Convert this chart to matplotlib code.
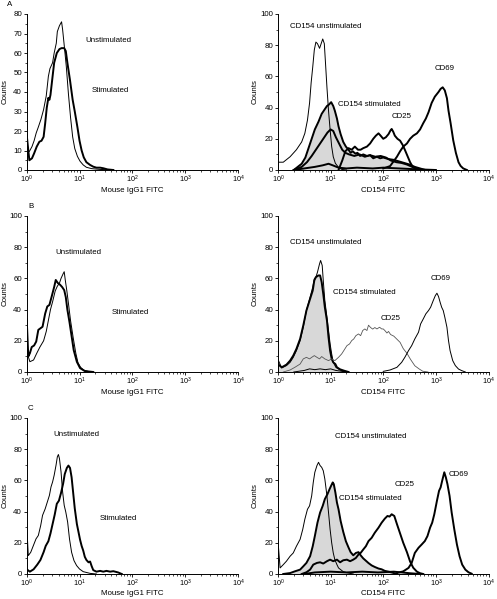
import numpy as np
import matplotlib
matplotlib.use("Agg")
import matplotlib.pyplot as plt
from matplotlib.ticker import FixedLocator, FixedFormatter, NullFormatter

plt.rcParams['font.family'] = ['Liberation Sans', 'DejaVu Sans']
plt.rcParams['mathtext.fontset'] = 'custom'
plt.rcParams['mathtext.rm'] = 'Liberation Sans'

# ---------------- DATA (x in log10 decades of fluorescence, y = counts) ----------------
# Panel A, left (Mouse IgG1 FITC)
aL_unstim_logx = [0, 0, 0.02, 0.05, 0.10, 0.14, 0.18, 0.22, 0.27, 0.32, 0.37, 0.41, 0.44, 0.49, 0.52, 0.56, 0.58, 0.62, 0.66, 0.68,
                  0.71, 0.75, 0.79, 0.83, 0.87, 0.91, 0.96, 1.01, 1.07, 1.13, 1.23, 1.39, 1.64]
aL_unstim = [0, 22, 10, 9.5, 12, 15, 19, 22, 26, 31, 38, 48, 52, 55, 60, 65, 71, 74, 76, 72,
             64, 53, 39, 27, 17, 11, 7, 4.5, 2.6, 1.4, 0.7, 0.3, 0]
aL_stim_logx = [0, 0, 0.05, 0.10, 0.14, 0.19, 0.24, 0.28, 0.32, 0.35, 0.38, 0.41, 0.43, 0.45, 0.49, 0.52, 0.57, 0.62, 0.66, 0.71,
                0.74, 0.77, 0.82, 0.87, 0.91, 0.96, 1.00, 1.04, 1.08, 1.13, 1.20, 1.26, 1.32, 1.39, 1.45, 1.53, 1.64]
aL_stim = [0, 18, 5, 6, 8.5, 12, 14.5, 15, 17, 24, 32, 37, 36, 38.5, 48, 55, 60, 62, 62.5, 62.5,
           61, 55, 46, 36, 30, 22, 15, 10, 6.5, 4, 2.6, 1.7, 1.2, 1.2, 0.9, 0.3, 0]

# Panel A, right (CD154 FITC)
aR_unstim_logx = [0, 0, 0.10, 0.23, 0.35, 0.45, 0.51, 0.56, 0.60, 0.63, 0.66, 0.69, 0.72, 0.75, 0.79, 0.82, 0.85, 0.88, 0.90, 0.93,
                  0.96, 0.99, 1.02, 1.05, 1.09, 1.15, 1.21, 1.30]
aR_unstim = [0, 5, 5, 8.5, 13, 18, 23.5, 32, 43, 56, 66, 77, 82, 81, 78, 81, 84, 81, 70, 53,
             38, 26, 15, 8.5, 4.3, 1.7, 0.4, 0]
aR_stim_logx = [0.30, 0.45, 0.52, 0.58, 0.64, 0.70, 0.77, 0.83, 0.89, 0.93, 0.97, 1.01, 1.05, 1.08, 1.12, 1.15, 1.19, 1.24, 1.29, 1.34,
                1.38, 1.42, 1.47, 1.51, 1.56, 1.62, 1.69, 1.75, 1.81, 1.88, 1.94, 2.00, 2.10, 2.20, 2.30, 2.40, 2.50, 2.60, 2.70, 2.80]
aR_stim = [0, 4, 8, 14, 20, 26, 31, 36, 39, 41, 42, 43.5, 41, 38, 33, 28, 23, 18, 15, 13,
           11, 12, 10.5, 11, 9, 10, 9, 9.5, 7.5, 8.5, 7.5, 8, 7, 6.5, 5.5, 4.5, 3.5, 2, 1, 0]
aR_second_logx = [0.30, 0.45, 0.55, 0.64, 0.72, 0.80, 0.88, 0.94, 1.00, 1.05, 1.10, 1.16, 1.22, 1.28, 1.35, 1.45, 1.55, 1.65, 1.75, 1.85,
                  1.95, 2.05, 2.15, 2.25, 2.35, 2.45, 2.55, 2.65, 2.75]
aR_second = [0, 2, 5, 9, 13, 17, 21, 24, 26, 25, 21, 17, 13, 11, 10, 9, 10, 8.5, 9.5, 8.5,
             9, 8, 6, 5, 4.5, 3.5, 2, 1, 0]
aR_low_logx = [0.30, 0.50, 0.70, 0.85, 0.96, 1.04, 1.15, 1.30, 1.50, 1.80, 2.00, 2.30, 2.60, 3.00]
aR_low = [0, 1, 2, 3, 4, 3, 1.5, 1, 1.5, 1, 1.5, 1, 0.5, 0]
aR_cd25_logx = [1.15, 1.22, 1.28, 1.34, 1.40, 1.46, 1.52, 1.57, 1.62, 1.69, 1.75, 1.81, 1.86, 1.91, 1.95, 2.00, 2.05, 2.10, 2.14, 2.16,
                2.19, 2.22, 2.27, 2.32, 2.37, 2.41, 2.46, 2.51, 2.56, 2.60, 2.67]
aR_cd25 = [0, 6, 12, 14, 13, 15, 13, 13, 14, 15, 17, 20, 22, 23.5, 22, 20, 21, 23, 25.5, 26.3,
           24.5, 22, 20, 18.8, 16, 13, 9, 5, 2, 1, 0]
aR_cd69_logx = [2.00, 2.13, 2.26, 2.32, 2.38, 2.45, 2.51, 2.57, 2.64, 2.70, 2.76, 2.81, 2.86, 2.92, 2.98, 3.05, 3.09, 3.13, 3.17, 3.21,
                3.24, 3.28, 3.33, 3.38, 3.43, 3.47, 3.52, 3.59]
aR_cd69 = [1, 2.5, 8.5, 12, 15, 17, 20, 22, 23.5, 26, 30, 33, 37, 43, 47, 50, 52, 53, 51, 46,
           38, 30, 19, 11, 5, 2.6, 1, 0]

# Panel B, left
bL_unstim_logx = [0, 0, 0.01, 0.06, 0.13, 0.19, 0.25, 0.32, 0.37, 0.41, 0.45, 0.49, 0.54, 0.58, 0.62, 0.65, 0.69, 0.71, 0.73, 0.76,
                  0.79, 0.83, 0.88, 0.93, 0.97, 1.02, 1.08, 1.20]
bL_unstim = [0, 14, 12, 6.6, 7.7, 12, 16, 20, 26, 33, 40, 45, 52, 55, 57, 60, 63, 64.3, 59, 52,
             44, 33, 22, 12, 6, 3, 1.2, 0]
bL_stim_logx = [0, 0, 0.03, 0.06, 0.095, 0.14, 0.18, 0.22, 0.26, 0.30, 0.35, 0.39, 0.43, 0.47, 0.52, 0.55, 0.59, 0.63, 0.67, 0.71,
                0.74, 0.77, 0.81, 0.85, 0.89, 0.95, 1.01, 1.10, 1.26]
bL_stim = [0, 34, 10, 12, 16, 17, 19.5, 27, 28, 29, 37.5, 42, 43, 48, 54.5, 59, 57, 56, 54.5, 52.5,
           48, 40, 32, 23, 14, 6.5, 2.5, 0.6, 0]

# Panel B, right
bR_unstim_logx = [0, 0, 0.07, 0.16, 0.23, 0.29, 0.35, 0.42, 0.48, 0.54, 0.61, 0.66, 0.69, 0.72, 0.75, 0.79, 0.81, 0.84, 0.86, 0.89,
                  0.93, 0.96, 0.99, 1.02, 1.05, 1.10, 1.18, 1.27]
bR_unstim = [0, 8, 2.6, 4.1, 6.2, 9.4, 13.7, 20.1, 28.7, 39.4, 48, 54.4, 59.7, 60.8, 64, 69.4, 71.5, 68.3, 58.7, 45.8,
             35.1, 26.6, 18, 11.6, 6.2, 3, 1.3, 0]
bR_stim_logx = [0, 0, 0.07, 0.16, 0.23, 0.29, 0.35, 0.42, 0.48, 0.54, 0.61, 0.66, 0.69, 0.72, 0.77, 0.80, 0.83, 0.86, 0.89, 0.93,
                0.96, 0.99, 1.02, 1.05, 1.09, 1.12, 1.18, 1.25, 1.34]
bR_stim = [0, 5, 3, 4.7, 7.3, 10.5, 14.8, 21.2, 29.8, 39.4, 46.9, 52.2, 58.7, 60.8, 61.9, 61.9, 57.6, 50.1, 41.5, 33,
           22.3, 13.7, 8.4, 6.2, 5.1, 3, 1.7, 0.9, 0]
bR_low_logx = [0.3, 0.5, 0.6, 0.7, 0.8, 0.9, 1.0, 1.1, 1.3]
bR_low = [0, 1, 2, 1.5, 2, 1.5, 2, 1, 0]
bR_cd25_logx = [0.10, 0.23, 0.32, 0.42, 0.48, 0.54, 0.60, 0.64, 0.69, 0.74, 0.79, 0.83, 0.89, 0.96, 1.02, 1.08, 1.15, 1.21, 1.25, 1.31,
                1.36, 1.40, 1.44, 1.48, 1.53, 1.57, 1.61, 1.65, 1.69, 1.72, 1.76, 1.80, 1.84, 1.88, 1.93, 1.97, 2.00, 2.03, 2.07, 2.10,
                2.14, 2.20, 2.26, 2.32, 2.38, 2.45, 2.52, 2.60, 2.68, 2.75, 2.85]
bR_cd25 = [0, 1.3, 3, 5.1, 8.4, 9.4, 8.4, 9.4, 10.5, 9.4, 8.4, 9.9, 8.4, 7.3, 8.4, 7.3, 9.4, 11.6, 13.7, 16.9,
           18, 20.1, 21.2, 23.3, 24.4, 23.3, 26.6, 27.6, 26.6, 30, 28.5, 27.5, 28.5, 27.6, 28.7, 27.6, 27.6, 26.6, 25, 26,
           24, 23, 21, 19, 15, 12, 8, 4, 2, 0.5, 0]
bR_cd69_logx = [2.00, 2.13, 2.26, 2.35, 2.41, 2.48, 2.54, 2.60, 2.67, 2.71, 2.76, 2.81, 2.86, 2.90, 2.95, 2.99, 3.02, 3.05, 3.08, 3.11,
                3.14, 3.17, 3.21, 3.24, 3.27, 3.32, 3.37, 3.43, 3.49, 3.56]
bR_cd69 = [0.4, 1.3, 3, 6.2, 9.4, 13.7, 16.9, 21.2, 25.5, 30.8, 34, 37.3, 39.4, 41.5, 45.8, 49, 50.5, 48.4, 44.8, 41.5,
           39.4, 35.1, 28.7, 20.1, 13.7, 7.3, 4.1, 1.9, 0.9, 0]

# Panel C, left
cL_unstim_logx = [0, 0, 0.03, 0.076, 0.126, 0.176, 0.22, 0.265, 0.30, 0.35, 0.39, 0.43, 0.46, 0.49, 0.52, 0.555, 0.58, 0.60, 0.62, 0.65,
                  0.68, 0.71, 0.74, 0.775, 0.81, 0.85, 0.895, 0.945, 1.0, 1.07, 1.2, 1.32]
cL_unstim = [0, 32, 11.8, 13.9, 18.2, 22.5, 24.7, 31.1, 37.6, 41.8, 46.1, 50.4, 55.8, 59, 63.3, 69.7, 75.1, 76.6, 74, 65.5,
             52.6, 44, 39.7, 33.3, 22.5, 13.9, 8.6, 5.4, 3.2, 1.5, 0.4, 0]
cL_stim_logx = [0, 0.06, 0.13, 0.20, 0.26, 0.32, 0.36, 0.41, 0.45, 0.49, 0.53, 0.57, 0.61, 0.65, 0.69, 0.72, 0.76, 0.79, 0.82, 0.85,
                0.88, 0.91, 0.95, 0.98, 1.01, 1.04, 1.07, 1.10, 1.13, 1.17, 1.20, 1.23, 1.26, 1.32, 1.39, 1.45, 1.51, 1.58, 1.64, 1.73,
                1.80]
cL_stim = [3, 1.5, 3, 6, 9, 14, 18, 21, 26, 32, 38, 45, 47, 52, 58, 64, 68, 69.5, 68, 62,
           52, 42, 32, 27, 22, 18, 15, 11, 9, 7.5, 8, 5, 2.5, 1.5, 2, 1.5, 2, 1.5, 1.8, 1,
           0]

# Panel C, right
cR_unstim_logx = [0, 0, 0.04, 0.10, 0.16, 0.23, 0.29, 0.35, 0.42, 0.47, 0.51, 0.56, 0.60, 0.64, 0.67, 0.70, 0.74, 0.77, 0.80, 0.83,
                  0.86, 0.89, 0.93, 0.96, 0.99, 1.02, 1.05, 1.08, 1.12, 1.15, 1.19, 1.24, 1.34, 1.43]
cR_unstim = [0, 21, 3.9, 6, 8.2, 11.4, 13.5, 17.8, 22.2, 28.6, 35.1, 41.5, 43.7, 50.1, 58.7, 65.2, 69.5, 71.6, 69.5, 68.4,
             66.2, 60.9, 50.1, 39.4, 28.6, 20, 13.5, 9.2, 6, 3.9, 2.8, 1.5, 0.6, 0]
cR_stim_logx = [0.10, 0.23, 0.32, 0.42, 0.48, 0.54, 0.61, 0.66, 0.70, 0.75, 0.80, 0.85, 0.89, 0.94, 0.98, 1.01, 1.04, 1.06, 1.09, 1.12,
                1.15, 1.19, 1.24, 1.29, 1.34, 1.38, 1.43, 1.48, 1.53, 1.57, 1.62, 1.67, 1.72, 1.78, 1.84, 1.91, 1.97, 2.03, 2.10, 2.16,
                2.26]
cR_stim = [0, 0.6, 1.7, 2.8, 4.9, 7.1, 11.4, 17.8, 24.3, 32.9, 39.4, 43.7, 48, 51.2, 54.4, 56.6, 58.7, 57.6, 52.3, 45.8,
           41.5, 34, 27, 21, 17, 14, 12, 13.5, 14, 12, 10, 8.5, 7, 5.5, 4.5, 3.5, 3, 2, 1.5, 1,
           0]
cR_low_logx = [0.5, 0.7, 1.0, 1.3, 1.6, 1.9, 2.2, 2.5, 2.7]
cR_low = [0, 1, 1.5, 1, 1.5, 1, 1.5, 0.5, 0]
cR_cd25_logx = [0.45, 0.54, 0.61, 0.67, 0.74, 0.80, 0.86, 0.93, 0.99, 1.05, 1.12, 1.18, 1.24, 1.31, 1.37, 1.43, 1.48, 1.53, 1.57, 1.62,
                1.67, 1.72, 1.78, 1.84, 1.91, 1.97, 2.03, 2.08, 2.12, 2.16, 2.21, 2.26, 2.32, 2.38, 2.45, 2.51, 2.57, 2.64, 2.70, 2.76]
cR_cd25 = [0, 1.1, 2.8, 6, 7.1, 7.5, 6.7, 8.2, 9.2, 8.2, 9.2, 7.5, 8.8, 9.2, 8.2, 9.2, 10.3, 12.5, 13.5, 15.7,
           17.8, 21.1, 23.2, 26.5, 29.7, 32.9, 35.5, 37.2, 36.8, 38.3, 37.2, 32, 26, 20, 14, 8, 4, 1.5, 0.5, 0]
cR_cd69_logx = [2.26, 2.38, 2.48, 2.54, 2.60, 2.67, 2.73, 2.79, 2.84, 2.89, 2.93, 2.97, 3.02, 3.06, 3.09, 3.12, 3.16, 3.19, 3.22, 3.26,
                3.30, 3.35, 3.40, 3.45, 3.50, 3.56, 3.62, 3.68]
cR_cd69 = [0.6, 1.7, 3.9, 7.1, 13.5, 16.8, 18.9, 21.1, 24.3, 29.7, 32.9, 38.3, 46.9, 53.3, 55.5, 59.8, 65.2, 61.9, 57.6, 50.1,
           39.4, 28.6, 18.9, 11.4, 6, 2.8, 1.1, 0.2]

x_tick_labels = ['$10^{0}$', '$10^{1}$', '$10^{2}$', '$10^{3}$', '$10^{4}$']
left_xlabel = 'Mouse IgG1 FITC'
right_xlabel = 'CD154 FITC'
y_label = 'Counts'
panel_letters = ['A', 'B', 'C']

# ---------------- FIGURE ----------------
W, H = 497, 599
fig = plt.figure(figsize=(W / 100, H / 100), dpi=100)
FS = 5.7
THIN, THICK = 0.7, 1.4


def px_rect(x0, x1, ytop, ybot):
    return [x0 / W, 1 - ybot / H, (x1 - x0) / W, (ybot - ytop) / H]


def ftext(x, y, s, ha='left', va='center', **kw):
    fig.text(x / W, 1 - y / H, s, ha=ha, va=va, fontsize=FS, **kw)


def style_axes(ax, ymax, ystep):
    ax.set_xscale('log')
    ax.set_xlim(1, 1e4)
    ax.set_ylim(0, ymax)
    for s in ['top', 'right']:
        ax.spines[s].set_visible(False)
    for s in ['left', 'bottom']:
        ax.spines[s].set_linewidth(0.7)
    ax.xaxis.set_major_locator(FixedLocator([1, 10, 100, 1000, 10000]))
    ax.xaxis.set_major_formatter(FixedFormatter(x_tick_labels))
    minors = [m * 10 ** e for e in range(4) for m in range(2, 10)]
    ax.xaxis.set_minor_locator(FixedLocator(minors))
    ax.xaxis.set_minor_formatter(NullFormatter())
    ax.set_yticks(np.arange(0, ymax + 0.1, ystep))
    ax.yaxis.set_minor_locator(FixedLocator(np.arange(0, ymax + 0.1, ystep / 2)))
    ax.tick_params(which='major', length=2.2, width=0.6, labelsize=FS, direction='out')
    ax.tick_params(axis='x', which='major', pad=0.6, labelsize=5.2)
    ax.tick_params(axis='y', which='major', pad=1.2)
    ax.tick_params(which='minor', length=1.4, width=0.5, direction='out')
    ax.patch.set_alpha(0)


def line(ax, logx, y, lw, color='black', fill=False):
    x = 10 ** np.asarray(logx, dtype=float)
    if fill:
        ax.fill_between(x, 0, y, color='#d8d8d8', lw=0, zorder=1)
    ax.plot(x, y, color=color, lw=lw, zorder=3, solid_joinstyle='round')


rows = [(14, 170, 80, 10), (216, 372, 100, 20), (418, 574, 100, 20)]
xlabel_y = [190, 392.5, 593.5]
L_X0, L_X1, R_X0, R_X1 = 26.7, 238, 278, 488.5
axes = []
for r, (yt, yb, lmax, lstep) in enumerate(rows):
    axL = fig.add_axes(px_rect(L_X0, L_X1, yt, yb))
    axR = fig.add_axes(px_rect(R_X0, R_X1, yt, yb))
    style_axes(axL, lmax, lstep)
    style_axes(axR, 100, 20)
    axes.append((axL, axR))
    ym = (yt + yb) / 2
    ftext(5.5, ym, y_label, ha='center', rotation=90)
    ftext(255.5, ym, y_label, ha='center', rotation=90)
    ftext((L_X0 + L_X1) / 2, xlabel_y[r], left_xlabel, ha='center')
    ftext((R_X0 + R_X1) / 2, xlabel_y[r], right_xlabel, ha='center')

# Row A
axL, axR = axes[0]
line(axL, aL_unstim_logx, aL_unstim, THIN)
line(axL, aL_stim_logx, aL_stim, THICK)
line(axR, aR_stim_logx, aR_stim, THICK, fill=True)
line(axR, aR_unstim_logx, aR_unstim, THIN)
line(axR, aR_second_logx, aR_second, THICK)
line(axR, aR_low_logx, aR_low, THICK)
line(axR, aR_cd25_logx, aR_cd25, THICK)
line(axR, aR_cd69_logx, aR_cd69, THICK)

# Row B
axL, axR = axes[1]
line(axL, bL_unstim_logx, bL_unstim, THIN)
line(axL, bL_stim_logx, bL_stim, THICK)
line(axR, bR_stim_logx, bR_stim, THICK, fill=True)
line(axR, bR_unstim_logx, bR_unstim, THIN)
line(axR, bR_low_logx, bR_low, THIN)
line(axR, bR_cd25_logx, bR_cd25, 0.6, color='#555555')
line(axR, bR_cd69_logx, bR_cd69, THIN)

# Row C
axL, axR = axes[2]
line(axL, cL_unstim_logx, cL_unstim, THIN)
line(axL, cL_stim_logx, cL_stim, THICK)
line(axR, cR_stim_logx, cR_stim, THICK, fill=True)
line(axR, cR_unstim_logx, cR_unstim, THIN)
line(axR, cR_low_logx, cR_low, THICK)
line(axR, cR_cd25_logx, cR_cd25, THICK)
line(axR, cR_cd69_logx, cR_cd69, THICK)

# panel letters
ftext(7, 5, panel_letters[0])
ftext(28, 206, panel_letters[1])
ftext(28, 408, panel_letters[2])

# annotations
ftext(85, 40, 'Unstimulated')
ftext(92, 90, 'Stimulated')
ftext(290, 26, 'CD154 unstimulated')
ftext(338, 104, 'CD154 stimulated')
ftext(392, 117, 'CD25')
ftext(435, 68, 'CD69')

ftext(55, 252, 'Unstimulated')
ftext(112, 312, 'Stimulated')
ftext(290, 243, 'CD154 unstimulated')
ftext(333, 293, 'CD154 stimulated')
ftext(381, 318, 'CD25')
ftext(431, 279, 'CD69')

ftext(53, 435, 'Unstimulated')
ftext(100, 518, 'Stimulated')
ftext(335, 437, 'CD154 unstimulated')
ftext(339, 498, 'CD154 stimulated')
ftext(395, 484, 'CD25')
ftext(449, 474, 'CD69')

fig.savefig('out.png', dpi=100)
